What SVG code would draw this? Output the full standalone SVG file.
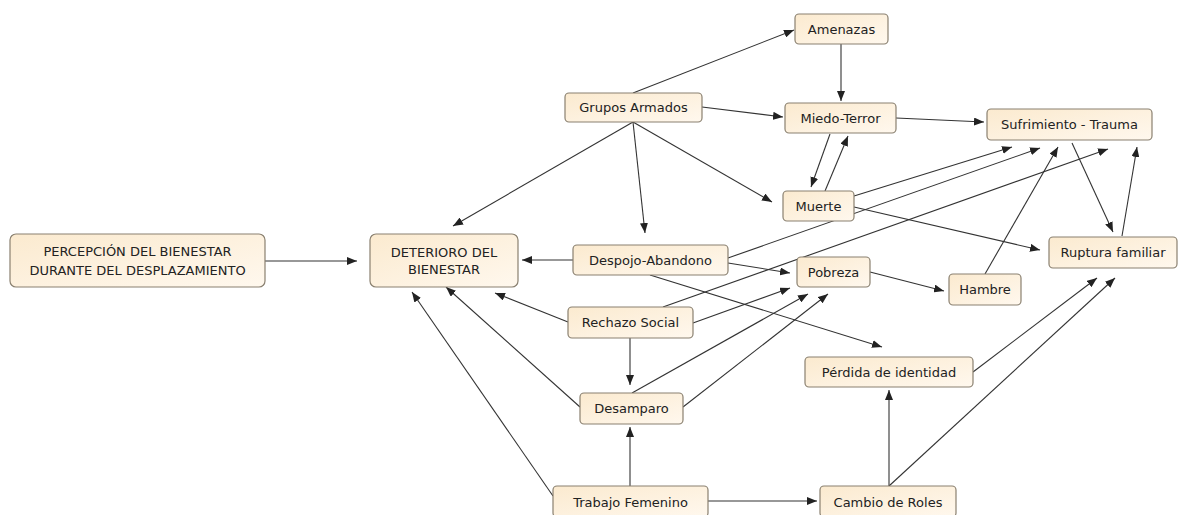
<svg xmlns="http://www.w3.org/2000/svg" width="1180" height="515" viewBox="0 0 1180 515">
<style>
.box{fill:url(#g);stroke:#8a8070;stroke-width:1.2}
.t{font-family:"DejaVu Sans",Verdana,sans-serif;font-size:13px;fill:#222;text-anchor:middle}
.c line{stroke:#333;stroke-width:1.1;marker-end:url(#a)}
</style>
<defs>
<linearGradient id="g" x1="0" y1="0" x2="1" y2="1">
<stop offset="0" stop-color="#fbeacf"/>
<stop offset="1" stop-color="#fff8ee"/>
</linearGradient>
<marker id="a" markerUnits="userSpaceOnUse" markerWidth="11" markerHeight="8" refX="10" refY="4" orient="auto">
<path d="M0,0 L10,4 L0,8 z" fill="#222"/>
</marker>
</defs>
<rect width="1180" height="515" fill="#fff"/>
<g class="c">
<line x1="265" y1="261" x2="357" y2="261"/>
<line x1="573" y1="260" x2="522" y2="260"/>
<line x1="633" y1="122" x2="453" y2="226"/>
<line x1="633" y1="93" x2="794" y2="30"/>
<line x1="702" y1="107" x2="783" y2="117"/>
<line x1="633" y1="122" x2="645" y2="233"/>
<line x1="633" y1="122" x2="772" y2="202"/>
<line x1="841" y1="44" x2="841" y2="101"/>
<line x1="896" y1="118" x2="984" y2="122"/>
<line x1="830" y1="134" x2="811" y2="187"/>
<line x1="825" y1="191" x2="848" y2="136"/>
<line x1="854" y1="196" x2="1012" y2="147"/>
<line x1="854" y1="207" x2="1040" y2="250"/>
<line x1="728" y1="258" x2="1040" y2="148"/>
<line x1="728" y1="263" x2="790" y2="273"/>
<line x1="650" y1="275" x2="882" y2="347"/>
<line x1="663" y1="307" x2="1108" y2="149"/>
<line x1="693" y1="323" x2="790" y2="288"/>
<line x1="568" y1="322" x2="495" y2="293"/>
<line x1="630" y1="338" x2="630" y2="385"/>
<line x1="632" y1="393" x2="808" y2="294"/>
<line x1="683" y1="407" x2="828" y2="294"/>
<line x1="580" y1="407" x2="446" y2="287"/>
<line x1="553" y1="496" x2="412" y2="292"/>
<line x1="630" y1="486" x2="630" y2="427"/>
<line x1="708" y1="501" x2="817" y2="501"/>
<line x1="889" y1="486" x2="889" y2="390"/>
<line x1="889" y1="486" x2="1115" y2="278"/>
<line x1="973" y1="372" x2="1097" y2="278"/>
<line x1="870" y1="272" x2="944" y2="291"/>
<line x1="985" y1="274" x2="1058" y2="147"/>
<line x1="1072" y1="143" x2="1113" y2="232"/>
<line x1="1122" y1="236" x2="1137" y2="147"/>
</g>
<g id="percepcion"><rect class="box" x="10" y="234" width="255" height="53" rx="6"/><text class="t" x="137.5" y="256">PERCEPCIÓN DEL BIENESTAR</text><text class="t" x="137.5" y="275">DURANTE DEL DESPLAZAMIENTO</text></g>
<g id="deterioro"><rect class="box" x="370" y="234" width="148" height="53" rx="6"/><text class="t" x="444" y="257">DETERIORO DEL</text><text class="t" x="444" y="274">BIENESTAR</text></g>
<g id="amenazas"><rect class="box" x="795" y="14" width="93" height="30" rx="4"/><text class="t" x="841.5" y="33.5">Amenazas</text></g>
<g id="grupos"><rect class="box" x="565" y="93" width="137" height="29" rx="4"/><text class="t" x="633.5" y="112">Grupos Armados</text></g>
<g id="miedo"><rect class="box" x="785" y="103" width="111" height="30" rx="4"/><text class="t" x="840.5" y="122.5">Miedo-Terror</text></g>
<g id="sufrimiento"><rect class="box" x="987" y="109" width="165" height="31" rx="4"/><text class="t" x="1069.5" y="129">Sufrimiento - Trauma</text></g>
<g id="muerte"><rect class="box" x="783" y="191" width="71" height="30" rx="4"/><text class="t" x="818.5" y="210.5">Muerte</text></g>
<g id="despojo"><rect class="box" x="573" y="245" width="155" height="30" rx="4"/><text class="t" x="650.5" y="264.5">Despojo-Abandono</text></g>
<g id="pobreza"><rect class="box" x="797" y="257" width="73" height="30" rx="4"/><text class="t" x="833.5" y="276.5">Pobreza</text></g>
<g id="hambre"><rect class="box" x="949" y="274" width="72" height="31" rx="4"/><text class="t" x="985" y="294">Hambre</text></g>
<g id="ruptura"><rect class="box" x="1049" y="237" width="128" height="31" rx="4"/><text class="t" x="1113" y="257">Ruptura familiar</text></g>
<g id="rechazo"><rect class="box" x="568" y="307" width="125" height="31" rx="4"/><text class="t" x="630.5" y="327">Rechazo Social</text></g>
<g id="perdida"><rect class="box" x="805" y="357" width="168" height="30" rx="4"/><text class="t" x="889" y="376.5">Pérdida de identidad</text></g>
<g id="desamparo"><rect class="box" x="580" y="393" width="103" height="31" rx="4"/><text class="t" x="631.5" y="413">Desamparo</text></g>
<g id="trabajo"><rect class="box" x="553" y="486" width="155" height="31" rx="4"/><text class="t" x="630.5" y="506.5">Trabajo Femenino</text></g>
<g id="cambio"><rect class="box" x="820" y="486" width="136" height="31" rx="4"/><text class="t" x="888" y="506.5">Cambio de Roles</text></g>
</svg>
